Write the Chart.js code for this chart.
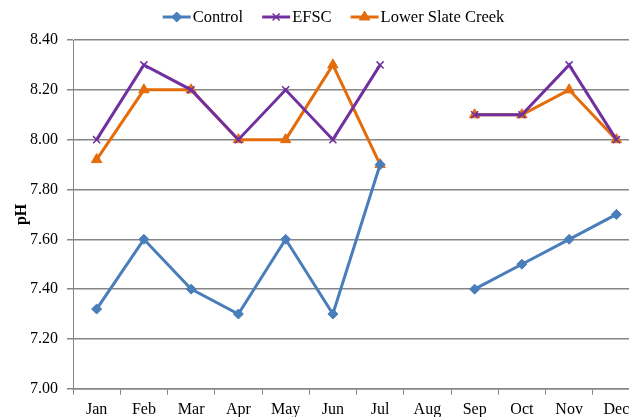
<!DOCTYPE html>
<html>
<head>
<meta charset="utf-8">
<script src="https://cdn.jsdelivr.net/npm/chart.js@4"></script>
<style>
  html, body { margin: 0; padding: 0; background: #fff; overflow: hidden; }
  #wrap { width: 629px; height: 417px; overflow: hidden; }
</style>
</head>
<body>
<div id="wrap"><canvas id="phChart" width="667" height="424"></canvas></div>
<script>
// 数据
const months = ['Jan', 'Feb', 'Mar', 'Apr', 'May', 'Jun', 'Jul', 'Aug', 'Sep', 'Oct', 'Nov', 'Dec'];
const controlPH = [7.32, 7.6, 7.4, 7.3, 7.6, 7.3, 7.9, null, 7.4, 7.5, 7.6, 7.7];
const efscPH = [8.0, 8.3, 8.2, 8.0, 8.2, 8.0, 8.3, null, 8.1, 8.1, 8.3, 8.0];
const lowerSlatePH = [7.92, 8.2, 8.2, 8.0, 8.0, 8.3, 7.9, null, 8.1, 8.1, 8.2, 8.0];

const serif = '"Liberation Serif", "Times New Roman", serif';
const gridGray = '#868686';

function makeSet(label, data, color, style, radius) {
  return {
    label: label,
    data: data,
    borderColor: color,
    backgroundColor: color,
    borderWidth: 3,
    pointStyle: style,
    pointRadius: radius,
    pointBorderWidth: style === 'crossRot' ? 1.5 : 1,
    pointBackgroundColor: color,
    pointBorderColor: color,
    tension: 0,
    spanGaps: false
  };
}

// 图例：线 + 标记（Excel 风格）
const lineLegend = {
  id: 'lineLegend',
  afterDraw(chart) {
    const g = chart.ctx;
    const sets = chart.data.datasets;
    const iconW = 28, gap = 2, itemGap = 19, y = 17;
    g.save();
    g.font = '16.5px ' + serif;
    const widths = sets.map(ds => iconW + gap + g.measureText(ds.label).width);
    const total = widths.reduce((a, b) => a + b, 0) + itemGap * (sets.length - 1);
    let x = chart.width / 2 - total / 2;
    sets.forEach((ds, i) => {
      g.strokeStyle = ds.borderColor;
      g.fillStyle = ds.borderColor;
      g.lineWidth = 3;
      g.beginPath(); g.moveTo(x, y); g.lineTo(x + iconW, y); g.stroke();
      g.lineWidth = ds.pointBorderWidth;
      Chart.helpers.drawPoint(g, { pointStyle: ds.pointStyle, radius: ds.pointRadius, borderWidth: ds.pointBorderWidth, rotation: 0 }, x + iconW / 2, y);
      g.fillStyle = '#000';
      g.textBaseline = 'middle';
      g.textAlign = 'left';
      g.fillText(ds.label, x + iconW + gap, y + 1);
      x += widths[i] + itemGap;
    });
    g.restore();
  }
};

const ctx = document.getElementById('phChart').getContext('2d');
new Chart(ctx, {
  type: 'line',
  data: {
    labels: months,
    datasets: [
      makeSet('Control', controlPH, '#4a7ebb', 'rectRot', 5),
      makeSet('EFSC', efscPH, '#7030a0', 'crossRot', 5),
      makeSet('Lower Slate Creek', lowerSlatePH, '#e46c0a', 'triangle', 6)
    ]
  },
  plugins: [lineLegend],
  options: {
    responsive: false,
    animation: false,
    layout: { padding: { left: 7, right: 27, top: 40, bottom: 0 } },
    plugins: {
      legend: { display: false },
      tooltip: { enabled: false }
    },
    scales: {
      x: {
        offset: true,
        grid: {
          offset: true,
          drawOnChartArea: false,
          drawTicks: true,
          tickLength: 6,
          color: gridGray
        },
        border: { display: true, color: gridGray, width: 1.5 },
        ticks: { font: { family: serif, size: 16 }, color: '#000', padding: 5, maxRotation: 0 }
      },
      y: {
        min: 7.0,
        max: 8.4,
        grid: { color: gridGray, lineWidth: 1.5, tickLength: 6 },
        border: { display: true, color: gridGray, width: 1 },
        ticks: {
          stepSize: 0.2,
          font: { family: serif, size: 16 },
          color: '#000',
          padding: 9,
          callback: v => Number(v).toFixed(2)
        },
        title: {
          display: true,
          text: 'pH',
          font: { family: serif, size: 16, weight: 'bold', lineHeight: 0.875 },
          color: '#000',
          padding: { top: 8, bottom: -8 }
        }
      }
    }
  }
});
</script>
</body>
</html>
